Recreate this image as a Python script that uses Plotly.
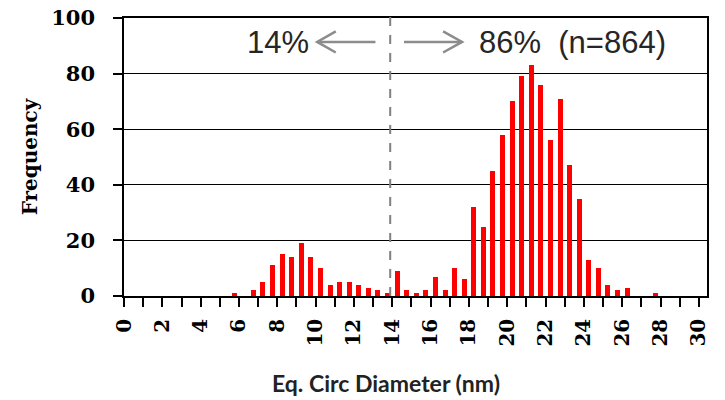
import plotly.graph_objects as go

# Histogram bins (centre of each 0.5 nm bin) and counts
bin_centers = [5.75, 6.25, 6.75, 7.25, 7.75, 8.25, 8.75, 9.25, 9.75, 10.25,
               10.75, 11.25, 11.75, 12.25, 12.75, 13.25, 13.75, 14.25, 14.75, 15.25,
               15.75, 16.25, 16.75, 17.25, 17.75, 18.25, 18.75, 19.25, 19.75, 20.25,
               20.75, 21.25, 21.75, 22.25, 22.75, 23.25, 23.75, 24.25, 24.75, 25.25,
               25.75, 26.25, 26.75, 27.25, 27.75]
counts = [1, 0, 2, 5, 11, 15, 14, 19, 14, 10,
          4, 5, 5, 4, 3, 2, 1, 9, 2, 1,
          2, 7, 2, 10, 6, 32, 25, 45, 58, 70,
          79, 83, 76, 56, 71, 47, 35, 13, 10, 4,
          2, 3, 0, 0, 1]

y_ticks = [0, 20, 40, 60, 80, 100]
x_ticks = list(range(0, 31, 2))

split_at = 13.89
left_label = "14%"
right_label = "86%\u00a0\u00a0(n=864)"
x_title = "Eq. Circ Diameter (nm)"

fig = go.Figure()
fig.add_trace(go.Bar(x=bin_centers, y=counts, width=0.26,
                     marker=dict(color="#FF0000", line=dict(width=0)),
                     showlegend=False, hoverinfo="skip"))

serif = "DejaVu Serif"
fig.update_layout(
    width=725, height=400,
    margin=dict(l=124, r=18, t=18, b=104),
    paper_bgcolor="white", plot_bgcolor="white",
    bargap=0,
    xaxis=dict(
        range=[0, 30.42], tickmode="array", tickvals=x_ticks,
        ticktext=[str(t) for t in x_ticks], tickangle=-90,
        ticks="outside", ticklen=9, tickwidth=1.5, tickcolor="black",
        minor=dict(dtick=1, tick0=0, ticks="outside", ticklen=9, tickwidth=1.5, tickcolor="black"),
        showgrid=False, zeroline=False, automargin=False,
        showline=True, linecolor="black", linewidth=1.5, mirror=True,
        tickfont=dict(family=serif, size=20, color="black", weight="bold"),
        ticklabelstandoff=4,
        fixedrange=True,
    ),
    yaxis=dict(
        range=[0, 100], tickmode="array", tickvals=y_ticks,
        ticks="outside", ticklen=9, tickwidth=1.5, tickcolor="black",
        showgrid=True, gridcolor="black", gridwidth=1.3,
        zeroline=False, automargin=False,
        showline=True, linecolor="black", linewidth=1.5, mirror=True,
        tickfont=dict(family=serif, size=21, color="black", weight="bold"),
        ticklabelstandoff=14,
        title=dict(text="Frequency", standoff=8,
                   font=dict(family=serif, size=20, color="black", weight="bold")),
        fixedrange=True,
    ),
    font=dict(family="Liberation Sans"),
)

# x-axis title (slightly left of plot centre, as in the original)
fig.add_annotation(x=0.449, y=-0.314, xref="paper", yref="paper", text=x_title,
                   showarrow=False, xanchor="center", yanchor="middle",
                   font=dict(family="Lato", size=23, color="#222222", weight="bold"))

# dashed split line (extends slightly above the plot)
fig.add_shape(type="line", xref="x", yref="paper", x0=split_at, x1=split_at,
              y0=0, y1=1.018, line=dict(color="#808080", width=2, dash="dash"))

arrow_col = "#8C8C8C"
ay = 91.4
# left arrow
fig.add_shape(type="line", xref="x", yref="y", x0=10.08, x1=13.12, y0=ay, y1=ay,
              line=dict(color=arrow_col, width=2.5))
fig.add_shape(type="path", xref="x", yref="y",
              path=f"M 11.05 {ay+3.8} L 10.08 {ay} L 11.05 {ay-3.8}",
              line=dict(color=arrow_col, width=2.5))
# right arrow
fig.add_shape(type="line", xref="x", yref="y", x0=14.61, x1=17.64, y0=ay, y1=ay,
              line=dict(color=arrow_col, width=2.5))
fig.add_shape(type="path", xref="x", yref="y",
              path=f"M 16.65 {ay+3.8} L 17.64 {ay} L 16.65 {ay-3.8}",
              line=dict(color=arrow_col, width=2.5))

fig.add_annotation(x=9.75, y=91.3, xref="x", yref="y", text=left_label,
                   showarrow=False, xanchor="right", yanchor="middle",
                   font=dict(family="Liberation Sans", size=31, color="#262626"))
fig.add_annotation(x=18.4, y=91.3, xref="x", yref="y", text=right_label,
                   showarrow=False, xanchor="left", yanchor="middle",
                   font=dict(family="Liberation Sans", size=31, color="#262626"))

fig.write_html("out.html", config={"displayModeBar": False},
               post_script="document.body.style.margin='0';")
